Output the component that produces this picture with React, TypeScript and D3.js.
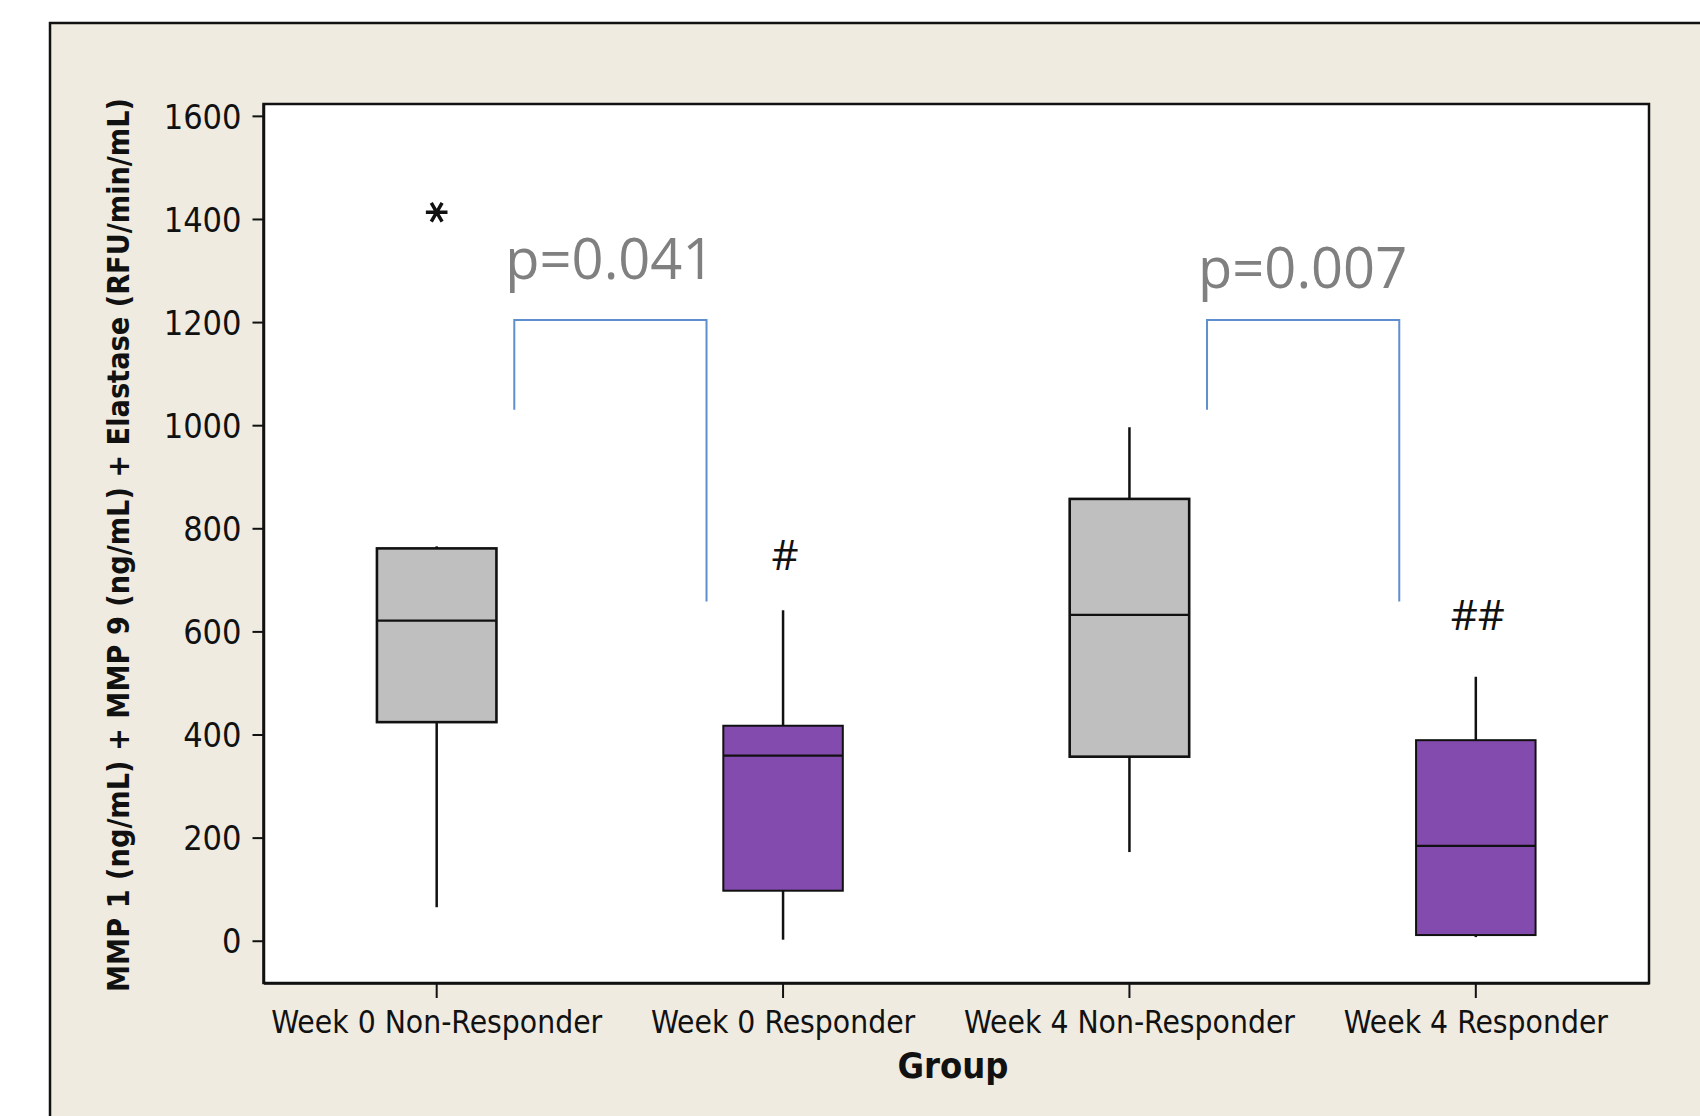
import * as d3 from 'd3';
import { useEffect, useRef } from 'react';

const categories = ['Week 0 Non-Responder', 'Week 0 Responder', 'Week 4 Non-Responder', 'Week 4 Responder'];
const whiskerLow = [65, 2, 172, 7];
const q1 = [424, 97, 357, 11];
const median = [621, 359, 632, 184];
const q3 = [761, 417, 857, 389];
const whiskerHigh = [765, 641, 996, 512];
const boxFill = ['#bfbfbf', '#844bae', '#bfbfbf', '#844bae'];
const outliers = [{ group: 0, value: 1413 }];
const yTicks = [0, 200, 400, 600, 800, 1000, 1200, 1400, 1600];

// significance brackets between pairs of groups
const brackets = [
  { from: 0, to: 1, top: 1204, leftEnd: 1030, rightEnd: 658, label: 'p=0.041', labelY: 1284 },
  { from: 2, to: 3, top: 1204, leftEnd: 1030, rightEnd: 658, label: 'p=0.007', labelY: 1266 },
];
const marks = [
  { group: 1, text: '#', value: 720 },
  { group: 3, text: '##', value: 603 },
];

const tickFont = '"DejaVu Sans Condensed", "DejaVu Sans", sans-serif';

const App = () => {
  const svgRef = useRef(null);

  useEffect(() => {
    const svg = d3.select(svgRef.current);
    svg.selectAll('*').remove();
    const svgWidth = 1700;
    const svgHeight = 1116;
    const plot = { left: 263.5, right: 1649, top: 104, bottom: 983 };

    // frame background
    svg.append('rect').attr('width', svgWidth).attr('height', svgHeight).attr('fill', '#ffffff');
    svg.append('rect')
      .attr('x', 50).attr('y', 23)
      .attr('width', svgWidth).attr('height', svgHeight)
      .attr('fill', '#efebe1').attr('stroke', '#111').attr('stroke-width', 2.5);

    const x = d3.scaleBand()
      .domain(categories)
      .range([plot.left, plot.right])
      .padding(0);
    const y = d3.scaleLinear()
      .domain([-82, 1623])
      .range([plot.bottom, plot.top]);
    const cx = i => x(categories[i]) + x.bandwidth() / 2;
    const bw = x.bandwidth() * 0.345;

    svg.append('rect')
      .attr('x', plot.left).attr('y', plot.top)
      .attr('width', plot.right - plot.left).attr('height', plot.bottom - plot.top)
      .attr('fill', '#fff').attr('stroke', '#111').attr('stroke-width', 2.5);

    // y axis
    const yAxis = svg.append('g')
      .attr('transform', `translate(${plot.left}, 0)`)
      .call(d3.axisLeft(y).tickValues(yTicks).tickFormat(d3.format('d')).tickSize(11).tickPadding(11).tickSizeOuter(0));
    yAxis.select('.domain').attr('stroke', '#111').attr('stroke-width', 2.5);
    yAxis.selectAll('.tick line').attr('stroke', '#111').attr('stroke-width', 2);
    yAxis.selectAll('text')
      .attr('fill', '#111')
      .style('font-family', tickFont)
      .style('font-size', '34px')
      .attr('dy', '0.36em');

    // x axis
    const xAxis = svg.append('g')
      .attr('transform', `translate(0, ${plot.bottom})`)
      .call(d3.axisBottom(x).tickSize(15).tickPadding(8).tickSizeOuter(0));
    xAxis.select('.domain').attr('stroke', '#111').attr('stroke-width', 2.5);
    xAxis.selectAll('.tick line').attr('stroke', '#111').attr('stroke-width', 2);
    xAxis.selectAll('text')
      .attr('fill', '#111')
      .style('font-family', tickFont)
      .style('font-size', '31.5px')
      .attr('dy', '0.85em');

    // titles
    svg.append('text')
      .attr('x', 953).attr('y', 1078)
      .attr('text-anchor', 'middle')
      .style('font-family', tickFont)
      .style('font-weight', 'bold')
      .style('font-size', '36px')
      .attr('fill', '#111')
      .text('Group');
    svg.append('text')
      .attr('transform', 'translate(129, 545) rotate(-90)')
      .attr('text-anchor', 'middle')
      .attr('textLength', 894)
      .attr('lengthAdjust', 'spacingAndGlyphs')
      .style('font-family', tickFont)
      .style('font-weight', 'bold')
      .style('font-size', '30px')
      .attr('fill', '#111')
      .text('MMP 1 (ng/mL) + MMP 9 (ng/mL) + Elastase (RFU/min/mL)');

    // boxes
    const boxes = svg.append('g');
    categories.forEach((c, i) => {
      boxes.append('line')
        .attr('x1', cx(i)).attr('x2', cx(i))
        .attr('y1', y(whiskerHigh[i])).attr('y2', y(q3[i]))
        .attr('stroke', '#111').attr('stroke-width', 2.5);
      boxes.append('line')
        .attr('x1', cx(i)).attr('x2', cx(i))
        .attr('y1', y(q1[i])).attr('y2', y(whiskerLow[i]))
        .attr('stroke', '#111').attr('stroke-width', 2.5);
      boxes.append('rect')
        .attr('x', cx(i) - bw / 2).attr('y', y(q3[i]))
        .attr('width', bw).attr('height', y(q1[i]) - y(q3[i]))
        .attr('fill', boxFill[i])
        .attr('stroke', '#111').attr('stroke-width', i % 2 === 0 ? 2.6 : 2);
      boxes.append('line')
        .attr('x1', cx(i) - bw / 2).attr('x2', cx(i) + bw / 2)
        .attr('y1', y(median[i])).attr('y2', y(median[i]))
        .attr('stroke', '#111').attr('stroke-width', 2.2);
    });

    svg.selectAll('.outlier')
      .data(outliers)
      .enter()
      .append('path')
      .attr('class', 'outlier')
      .attr('transform', d => `translate(${cx(d.group)}, ${y(d.value)}) rotate(90)`)
      .attr('d', d3.symbol(d3.symbolAsterisk, 330))
      .attr('fill', 'none')
      .attr('stroke', '#111')
      .attr('stroke-width', 3.5);

    // brackets + p values
    brackets.forEach(b => {
      const x0 = cx(b.from) + x.bandwidth() * 0.224;
      const x1 = cx(b.to) - x.bandwidth() * 0.221;
      svg.append('path')
        .attr('d', `M${x0},${y(b.leftEnd)}V${y(b.top)}H${x1}V${y(b.rightEnd)}`)
        .attr('fill', 'none')
        .attr('stroke', '#5f8fcf')
        .attr('stroke-width', 2);
      svg.append('text')
        .attr('x', (cx(b.from) + cx(b.to)) / 2)
        .attr('y', y(b.labelY))
        .attr('text-anchor', 'middle')
        .style('font-family', '"Open Sans", sans-serif')
        .style('font-size', '56px')
        .attr('fill', '#808080')
        .text(b.label);
    });

    svg.selectAll('.mark')
      .data(marks)
      .enter()
      .append('text')
      .attr('class', 'mark')
      .attr('x', d => cx(d.group) + 2)
      .attr('y', d => y(d.value))
      .attr('text-anchor', 'middle')
      .style('font-family', '"Open Sans", sans-serif')
      .style('font-size', '42px')
      .attr('fill', '#111')
      .text(d => d.text);
  }, []);

  return (
    <svg ref={svgRef} width={1700} height={1116} style={{ position: 'absolute', left: 0, top: 0 }}></svg>
  );
};

export default App;
